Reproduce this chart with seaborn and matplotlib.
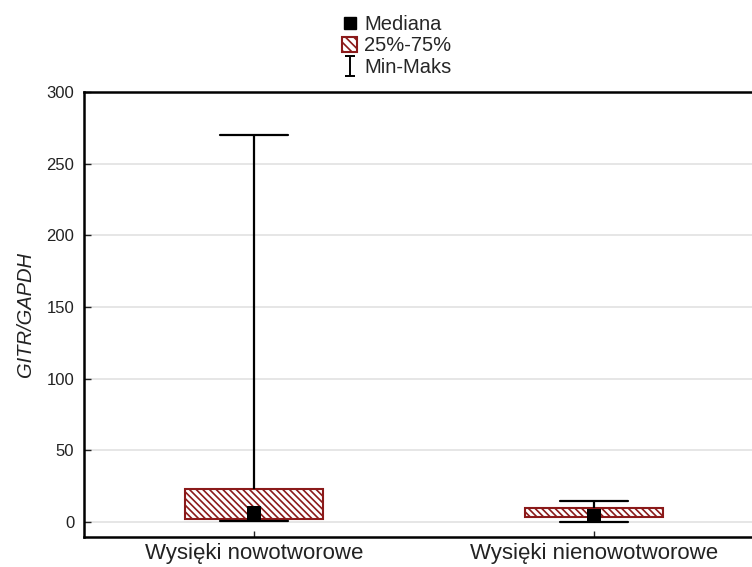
import matplotlib
matplotlib.use("Agg")
import matplotlib.pyplot as plt
import seaborn as sns
import pandas as pd
import numpy as np
from matplotlib.lines import Line2D
from matplotlib.patches import Patch
from matplotlib.path import Path

categories = ["Wysięki nowotworowe", "Wysięki nienowotworowe"]
mins = [1, 0]
q1s = [2, 3.3]
medians = [6, 4]
q3s = [23, 9.5]
maxs = [270, 14.5]
yticks = [0, 50, 100, 150, 200, 250, 300]
ylabel = "GITR/GAPDH"
legend_labels = ["Mediana", "25%-75%", "Min-Maks"]

sns.set_theme(style="white")
plt.rcParams['font.family'] = ['Liberation Sans', 'DejaVu Sans']
plt.rcParams['hatch.linewidth'] = 1.2

# five-number rows -> exact boxes with whis=(0,100)
rows = []
for c, a, b, m, d, e in zip(categories, mins, q1s, medians, q3s, maxs):
    for v in (a, b, m, d, e):
        rows.append({"cat": c, "val": v})
df = pd.DataFrame(rows)
med_df = pd.DataFrame({"cat": categories, "val": medians})

fig = plt.figure(figsize=(7.52, 5.67), dpi=100)
ax = fig.add_axes([84/752, 1-537/567, (764-84)/752, (537-92)/567])

red = "#8b1a1a"
hatch = "\\\\\\\\\\"
sns.boxplot(data=df, x="cat", y="val", order=categories, whis=(0, 100),
            width=0.406, ax=ax, fill=True, color="white", linecolor="black",
            linewidth=1.5, capwidths=0.2,
            boxprops=dict(facecolor="white", edgecolor=red, hatch=hatch, linewidth=1.5),
            whiskerprops=dict(color="black", linewidth=1.6),
            capprops=dict(color="black", linewidth=1.6),
            medianprops=dict(visible=False), showfliers=False)
sns.scatterplot(data=med_df, x="cat", y="val", marker="s", s=110, color="black",
                edgecolor="black", linewidth=0, ax=ax, zorder=5, legend=False)

ax.set_xlim(-0.5, 1.5)
ax.set_ylim(-10.5, 300)
ax.set_yticks(yticks)
ax.set_yticklabels([str(t) for t in yticks])
ax.yaxis.grid(True, color="#e2e2e2", linewidth=1.2)
ax.set_axisbelow(True)
ax.set_xlabel("")
ax.set_ylabel(ylabel, fontsize=14.5, style="italic", color="#222222", labelpad=8)
ax.tick_params(axis="y", direction="in", length=5, width=1, colors="#222222",
               labelsize=12, left=True, pad=7)
ax.tick_params(axis="x", direction="in", length=4, width=1, colors="#222222",
               labelsize=16, bottom=True, pad=4)
for s in ["left", "bottom", "top"]:
    ax.spines[s].set_visible(True)
    ax.spines[s].set_color("black")
    ax.spines[s].set_linewidth(1.8)

ibeam = Path([(-0.5, 1), (0.5, 1), (0, 1), (0, -1), (-0.5, -1), (0.5, -1)],
             [Path.MOVETO, Path.LINETO, Path.MOVETO, Path.LINETO, Path.MOVETO, Path.LINETO])
handles = [
    Line2D([], [], marker="s", color="black", linestyle="none", markersize=9),
    Patch(facecolor="white", edgecolor=red, hatch="\\\\\\\\", linewidth=1.5),
    Line2D([], [], marker=ibeam, color="black", linestyle="none", markersize=14,
           markeredgewidth=1.4),
]
fig.legend(handles, legend_labels, loc="upper left", bbox_to_anchor=(342/752, 1-15/567),
           frameon=False, fontsize=14.5, handlelength=0.75, handleheight=0.75,
           handletextpad=0.35, labelspacing=0.12, borderpad=0, borderaxespad=0)

fig.savefig("out.png", dpi=100)
